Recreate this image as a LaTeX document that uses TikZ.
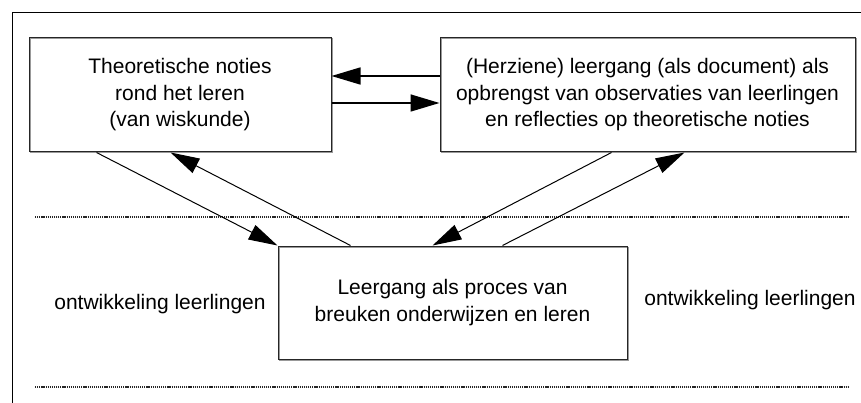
\documentclass[tikz,border=0pt]{standalone}
\usepackage{fontspec}
\setmainfont{Liberation Sans}
\usetikzlibrary{arrows.meta,calc}
\begin{document}
\begin{tikzpicture}[x=1pt,y=-1pt,
  box/.style={draw=black!85,line width=1pt,inner sep=0pt,align=center,
    font=\fontsize{21}{26.5}\selectfont,
    preaction={draw=black!40,line width=1pt,transform canvas={shift={(1pt,-1pt)}}}},
  lbl/.style={inner sep=0pt,anchor=base,font=\fontsize{21}{26.5}\selectfont},
  conn/.style={line width=1pt,-{Triangle[length=29pt,width=16pt]}},
  hconn/.style={line width=1.6pt,-{Triangle[length=29pt,width=17pt]}},
  sep/.style={line width=1.1pt,black!85,dash pattern=on 1.2pt off 0.9pt}]
\useasboundingbox (0,0) rectangle (861,403);
% frame
\draw[line width=1pt] (861,13) -- (12,13) -- (12,403);
% boxes
\node[box,minimum width=302pt,minimum height=114pt] (b1) at (180,95)
  {Theoretische noties\\rond het leren\\(van wiskunde)};
\node[box,minimum width=415pt,minimum height=114pt] (b2) at (647.5,95)
  {(Herziene) leergang (als document) als\\opbrengst van observaties van leerlingen\\en reflecties op theoretische noties};
\node[box,minimum width=349pt,minimum height=113pt] (b3) at (452.5,302.5)
  {Leergang als proces van\\breuken onderwijzen en leren};
% labels
\node[lbl] (l1) at (160,309) {ontwikkeling leerlingen};
\node[lbl] (l2) at (750,305) {ontwikkeling leerlingen};
% dotted separators
\coordinate (s1a) at (35,217);
\coordinate (s1b) at (848,217);
\coordinate (s2a) at (35,387);
\coordinate (s2b) at (848,387);
\draw[sep] (s1a) -- (s1b);
\draw[sep] (s2a) -- (s2b);
% horizontal arrows
\draw[hconn] (b2.west |- 0,76) -- (b1.east |- 0,76);
\draw[hconn] (b1.east |- 0,103) -- (b2.west |- 0,103);
% diagonal arrows
\draw[conn] ($(b1.south west)+(68,0)$) -- (b3.north west);
\draw[conn] ($(b3.north west)+(73,0)$) -- ($(b1.south west)+(142,0)$);
\draw[conn] ($(b2.south west)+(172,0)$) -- ($(b3.north west)+(155,0)$);
\draw[conn] ($(b3.north west)+(225,0)$) -- ($(b2.south west)+(245,0)$);
\end{tikzpicture}
\end{document}
